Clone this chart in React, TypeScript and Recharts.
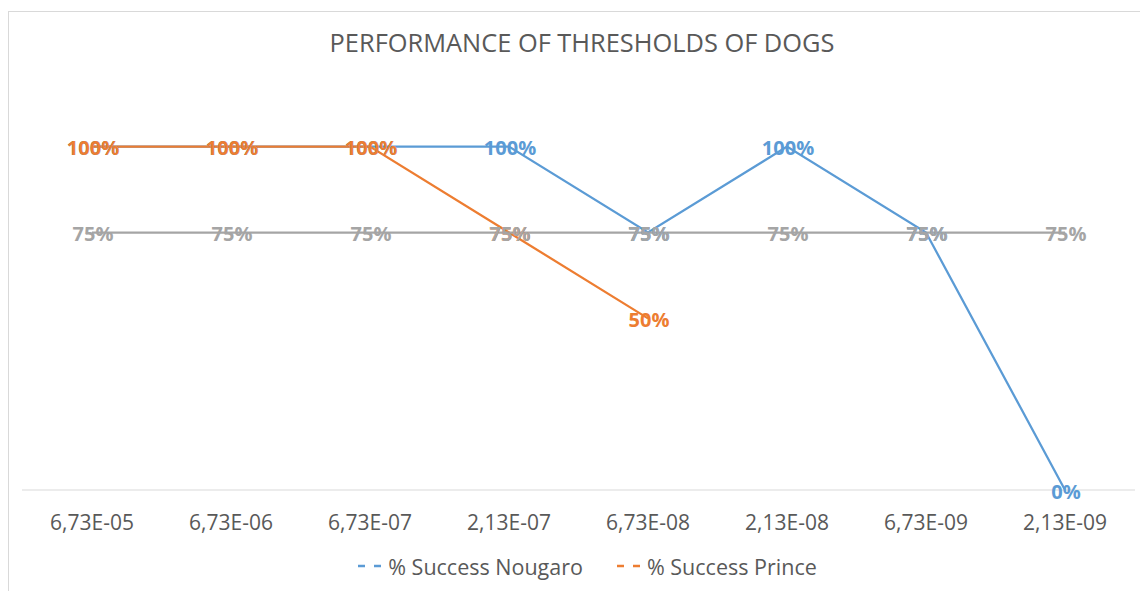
import { LabelList, Legend, Line, LineChart, XAxis, YAxis } from "recharts";

const thresholds = [
  "6,73E-05",
  "6,73E-06",
  "6,73E-07",
  "2,13E-07",
  "6,73E-08",
  "2,13E-08",
  "6,73E-09",
  "2,13E-09",
];
const successNougaro = [1, 1, 1, 1, 0.75, 1, 0.75, 0];
const successPrince = [1, 1, 1, 0.75, 0.5, null, null, null];
const passMark = [0.75, 0.75, 0.75, 0.75, 0.75, 0.75, 0.75, 0.75];

const BLUE = "#5b9bd5";
const ORANGE = "#ed7d31";
const GREY = "#a5a5a5";
const INK = "#595959";
const FONT = "'Open Sans', sans-serif";

const rows = thresholds.map((t, i) => ({
  threshold: t,
  nougaro: successNougaro[i],
  prince: successPrince[i],
  pass: passMark[i],
}));

const pct = (v: unknown) => (v == null ? "" : `${Math.round(Number(v) * 100)}%`);

// Excel-style data label: bold, centred on the point
function pointLabel(color: string) {
  return (props: any) => {
    const { x, y, value } = props;
    if (value == null || x == null || y == null) return null;
    return (
      <text
        x={x + 1}
        y={y + 1}
        textAnchor="middle"
        dominantBaseline="central"
        fill={color}
        fontFamily={FONT}
        fontSize={20}
        fontWeight={700}
      >
        {pct(value)}
      </text>
    );
  };
}

const legendItems = [
  { name: "% Success Nougaro", color: BLUE },
  { name: "% Success Prince", color: ORANGE },
];

function DashedLegend() {
  return (
    <div
      style={{
        height: 30,
        marginLeft: 16,
        display: "flex",
        justifyContent: "center",
        alignItems: "center",
        gap: 32,
        fontFamily: FONT,
        fontSize: 21.5,
        color: INK,
      }}
    >
      {legendItems.map((it) => (
        <div key={it.name} style={{ display: "flex", alignItems: "center" }}>
          <svg width={30} height={10} style={{ marginRight: 2 }}>
            <line x1={2} y1={5} x2={30} y2={5} stroke={it.color} strokeWidth={2.5} strokeDasharray="7 9" />
          </svg>
          <span>{it.name}</span>
        </div>
      ))}
    </div>
  );
}

export default function App() {
  return (
    <div
      style={{
        position: "absolute",
        left: 8,
        top: 11,
        width: 1132,
        height: 580,
        borderTop: "1px solid #d9d9d9",
        borderLeft: "1px solid #d9d9d9",
        background: "#fff",
        overflow: "hidden",
      }}
    >
      <div
        style={{
          position: "absolute",
          top: 18,
          left: 7,
          width: "100%",
          textAlign: "center",
          fontFamily: FONT,
          fontSize: 25.4,
          lineHeight: "25px",
          color: INK,
        }}
      >
        PERFORMANCE OF THRESHOLDS OF DOGS
      </div>
      <LineChart width={1131} height={579} data={rows} margin={{ top: 66, right: 5, bottom: 10, left: 13 }}>
        <XAxis
          dataKey="threshold"
          height={61}
          padding={{ left: 70, right: 70 }}
          tickSize={0}
          tickMargin={25}
          axisLine={{ stroke: "#d9d9d9", strokeWidth: 1 }}
          tickLine={false}
          tick={{ fill: INK, fontSize: 21, fontFamily: FONT }}
          interval={0}
        />
        <YAxis hide domain={[0, 1.2]} />
        <Legend verticalAlign="bottom" content={() => <DashedLegend />} />
        <Line
          dataKey="nougaro"
          name="% Success Nougaro"
          stroke={BLUE}
          strokeWidth={2.25}
          dot={false}
          activeDot={false}
          isAnimationActive={false}
        >
          <LabelList dataKey="nougaro" content={pointLabel(BLUE)} />
        </Line>
        <Line
          dataKey="prince"
          name="% Success Prince"
          stroke={ORANGE}
          strokeWidth={2.25}
          dot={false}
          activeDot={false}
          isAnimationActive={false}
        >
          <LabelList dataKey="prince" content={pointLabel(ORANGE)} />
        </Line>
        <Line
          dataKey="pass"
          legendType="none"
          stroke={GREY}
          strokeWidth={2.25}
          dot={false}
          activeDot={false}
          isAnimationActive={false}
        >
          <LabelList dataKey="pass" content={pointLabel(GREY)} />
        </Line>
      </LineChart>
    </div>
  );
}
